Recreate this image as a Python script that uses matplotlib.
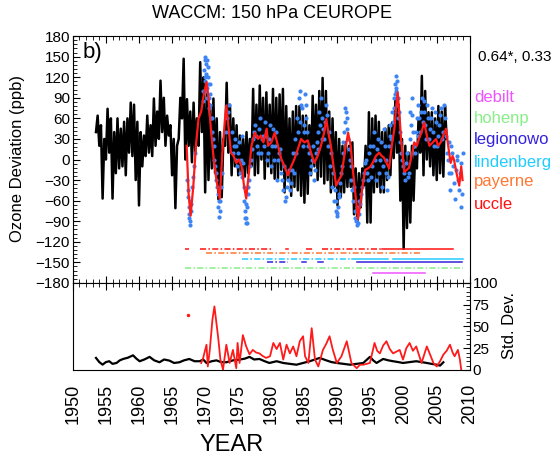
import matplotlib
matplotlib.use('Agg')
import matplotlib.pyplot as plt
from matplotlib.ticker import MultipleLocator, AutoMinorLocator
import numpy as np

plt.rcParams['font.family'] = ['Liberation Sans', 'DejaVu Sans']

# ---- model monthly anomaly (black), quarterly readings from 1953.5 ----
model_start = 1953.5
model_step = 0.25
model_vals = [40, 64,
              20, 50, -57, 30,   0, 74, 10, 60,   -57, 40, -20, 60,   -13, 45, -10, 55,
              -23, 60, 10, 83,   5, 80, -30, 55,   -67, 40, -10, 35,   5, 64, 10, 50,
              5, 89, 20, 70,     30, 115, 40, 90,  20, 64, 35, 50,     -23, 30, -71, 20,
              30, 90, 60, 147,   0, 88, 20, 70,    -4, 83, 10, 60,     20, 142, 40, 120,
              -48, 100, -30, 80, -13, 89, -20, 60, -58, 40, -55, 30,   20, 112, 10, 80,
              -23, 60, -10, 50,  -23, 35, -20, 30, -25, 40, -20, 30,   -10, 103, -23, 80,
              -20, 108, 0, 90,   -28, 98, -10, 80, -20, 103, -28, 90,  -28, 95, -15, 103,
              -48, 78, -30, 60,  -53, 70, -40, 78, -45, 78, -53, 64,   -63, 64, -50, 50,
              -23, 93, -10, 80,  -30, 100, -25, 119, -35, 100, -30, 70, -48, 60, -40, 40,
              -67, 30, -55, 20,  -48, 25, -40, 20, -40, 25, -80, -13,  -92, -20, -70, -13,
              -38, 20, -92, 69,  -92, 60, -48, 64, -40, 55, -48, 40,   -48, 45, -30, 50,
              -23, 54, 2, 89,    10, 80, -60, 30,  -130, 20, -100, 10, -92, 20, -60, 15,
              -13, 60, 10, 122,  -23, 100, 0, 69,  -10, 69, -23, 60,   -30, 78, -20, 70,
              -25, 78, 30]

# ---- smoothed sonde composite (red) ----
obs_years = [1967.2, 1967.5, 1967.8, 1968.2, 1968.6, 1969.0, 1969.4, 1969.8, 1970.2, 1970.5,
             1970.9, 1971.3, 1971.7, 1972.2, 1972.6, 1973.0, 1973.2, 1973.5, 1973.9, 1974.3,
             1974.7, 1975.1, 1975.5, 1975.9, 1976.2, 1976.6, 1977.0, 1977.5, 1978.0, 1978.4,
             1978.8, 1979.3, 1979.5, 1980.0, 1980.5, 1981.0, 1981.5, 1982.0, 1982.5, 1983.0,
             1983.5, 1984.0, 1984.5, 1985.0, 1985.5, 1986.0, 1986.5, 1987.0, 1987.5, 1988.0,
             1988.3, 1988.6, 1989.0, 1989.4, 1989.8, 1990.2, 1990.6, 1991.1, 1991.6, 1992.0,
             1992.3, 1992.7, 1993.1, 1993.5, 1993.8, 1994.2, 1994.6, 1995.0, 1995.3, 1995.8,
             1996.3, 1996.7, 1997.0, 1997.4, 1997.8, 1998.2, 1998.6, 1998.9, 1999.1, 1999.4,
             1999.6, 2000.1, 2000.5, 2000.8, 2001.2, 2001.6, 2002.0, 2002.3, 2002.7, 2003.1,
             2003.5, 2003.9, 2004.4, 2004.9, 2005.2, 2005.6, 2006.0, 2006.4, 2006.8, 2007.1,
             2007.4, 2007.6, 2008.0, 2008.4, 2008.7, 2008.9]
obs_vals = [20, -50, -82, -40, 20, 60, 70, 95, 113, 90,
            40, 0, -30, -57, 10, 60, 79, 50, 10, 5,
            -5, 0, -10, -40, -57, -20, 20, 39, 30, 35,
            25, 45, 20, 25, 39, 20, 1, -10, -23, -10,
            1, 15, 30, 25, 28, 10, -5, 5, 20, 40,
            59, 40, 20, -10, -38, -30, -23, 10, 39, 20,
            -13, -50, -87, -60, -38, -15, -13, -10, -5, 5,
            10, 5, 3, -5, -13, 20, 45, 80, 98, 60,
            30, -18, -15, -12, 5, 25, 20, 30, 40, 54,
            35, 20, 25, 30, 20, 25, 35, 45, 15, -5,
            5, 0, -20, -38, -10, -30]

# ---- individual sonde values (blue) ----
sonde_years = [1967.3, 1967.4, 1967.5, 1967.6, 1967.7, 1967.8, 1967.9, 1968.0, 1968.3, 1968.5,
               1969.6, 1969.8, 1969.9, 1970.0, 1970.1, 1970.2, 1970.3, 1970.4, 1970.5, 1970.6,
               1970.7, 1970.8, 1971.0, 1971.1, 1971.3, 1971.5, 1971.7, 1971.9, 1972.0, 1972.1,
               1972.3, 1972.4, 1972.6, 1973.3, 1973.6, 1974.0, 1974.3, 1974.5, 1974.7, 1975.0,
               1975.2, 1975.5, 1975.7, 1975.9, 1976.0, 1976.1, 1976.2, 1976.3, 1976.4, 1976.7,
               1977.0, 1977.3, 1977.6, 1977.9, 1978.2, 1978.5, 1978.8, 1979.1, 1979.4, 1979.7,
               1980.0, 1980.3, 1980.6, 1980.9, 1981.2, 1981.5, 1981.8, 1982.1, 1982.4, 1982.7,
               1983.0, 1983.3, 1983.6, 1983.9, 1984.2, 1984.4, 1984.6, 1984.9, 1985.1, 1985.3,
               1985.6, 1985.9, 1986.2, 1986.4, 1986.7, 1987.0, 1987.2, 1987.5, 1987.7, 1988.0,
               1988.3, 1988.6, 1988.9, 1989.2, 1989.5, 1989.7, 1989.9, 1990.1, 1990.3, 1990.5,
               1990.8, 1991.0, 1991.2, 1991.4, 1991.6, 1991.9, 1992.1, 1992.4, 1992.6, 1992.8,
               1993.0, 1993.2, 1993.4, 1993.7, 1994.0, 1994.3, 1994.6, 1994.9, 1995.2, 1995.5,
               1995.8, 1996.1, 1996.4, 1996.7, 1997.0, 1997.3, 1997.5, 1997.8, 1998.0, 1998.3,
               1998.5, 1998.7, 1998.8, 1998.9, 1999.0, 1999.2, 1999.4, 1999.6, 1999.9, 2000.2,
               2000.5, 2000.8, 2001.0, 2001.2, 2001.4, 2001.7, 2002.0, 2002.2, 2002.5, 2002.8,
               2003.0, 2003.3, 2003.6, 2003.9, 2004.2, 2004.5, 2004.8, 2005.1, 2005.4, 2005.7,
               2006.0, 2006.3, 2006.6, 2006.8, 2007.0, 2007.2, 2007.5, 2007.8, 2008.0, 2008.2,
               2008.5, 2008.7, 2008.9]
sonde_vals = [-30, -55, -70, -85, -90, -65, -75, -40, -10, 10,
              100, 130, 115, 150, 140, 125, 105, 135, 120, 90,
              80, 110, 60, 40, 20, -10, -30, -50, -70, -84,
              -60, -40, -20, 60, 80, 40, 20, 30, 0, 10,
              -20, 35, -5, -60, -75, -92, -85, -70, -50, -30,
              0, 30, 50, 20, 45, 10, 35, 55, 0, 30,
              -10, 45, 20, -30, 10, -20, -45, -60, -40, -15,
              -35, 10, 30, 60, 90, 100, 75, 40, 95, 60,
              20, -20, 0, -30, 10, 40, 70, 90, 60, 30,
              80, 20, -10, -40, -60, -75, -82, -70, -50, -20,
              10, 40, 75, 60, 30, 0, -30, -60, -75, -90,
              -96, -80, -65, -40, -20, 0, -30, 20, -10, 40,
              -30, 30, 0, -40, 45, -20, -45, 20, 50, 70,
              90, 110, 122, 100, 80, 60, 40, 10, -10, -30,
              10, -20, 70, 90, 40, 10, 60, 80, 40, 90,
              70, 50, 80, 30, 60, 40, 70, 20, 50, 75,
              40, 60, 10, -20, -45, 20, -10, -57, 0, -30,
              -20, -70, 10]

sonde_years_b = [1967.35, 1967.55, 1967.65, 1967.75, 1968.1,
                 1969.7, 1969.95, 1970.05, 1970.15, 1970.25, 1970.35, 1970.45, 1970.55, 1970.75, 1970.9,
                 1971.2, 1971.4, 1971.6, 1971.8, 1972.05, 1972.2,
                 1973.1, 1973.45, 1974.15, 1974.6, 1974.85, 1975.1, 1975.35, 1975.6, 1975.8, 1976.05,
                 1976.15, 1976.25, 1976.5, 1976.85, 1977.15, 1977.45, 1977.75, 1978.05, 1978.35, 1978.65,
                 1978.95, 1979.25, 1979.55, 1979.85,
                 1980.15, 1980.45, 1980.75, 1981.05, 1981.35, 1981.65, 1981.95, 1982.25, 1982.55, 1982.85,
                 1983.15, 1983.45, 1983.75, 1984.05, 1984.3, 1984.5, 1984.75, 1985.0, 1985.2, 1985.45,
                 1985.75, 1986.05, 1986.3, 1986.55, 1986.85, 1987.1, 1987.35, 1987.6, 1987.85, 1988.15,
                 1988.45, 1988.75, 1989.05, 1989.35, 1989.6, 1989.8, 1990.0, 1990.2, 1990.4, 1990.65,
                 1990.9, 1991.1, 1991.3, 1991.5, 1991.75, 1992.0, 1992.25, 1992.5, 1992.7, 1992.9,
                 1993.1, 1993.3, 1993.55, 1993.85, 1994.15, 1994.45, 1994.75, 1995.05, 1995.35, 1995.65,
                 1995.95, 1996.25, 1996.55, 1996.85, 1997.15, 1997.4, 1997.65, 1997.9, 1998.15, 1998.4,
                 1998.6, 1998.75, 1998.85, 1998.95, 1999.1, 1999.3, 1999.5, 1999.75, 2000.05, 2000.35,
                 2000.65, 2000.9, 2001.1, 2001.3, 2001.55, 2001.85, 2002.1, 2002.35, 2002.65, 2002.9,
                 2003.15, 2003.45, 2003.75, 2004.05, 2004.35, 2004.65, 2004.95, 2005.25, 2005.55, 2005.85,
                 2006.15, 2006.45, 2006.7, 2006.9, 2007.1, 2007.35, 2007.65, 2007.9, 2008.1, 2008.35,
                 2008.6, 2008.8]
sonde_vals_b = [-45, -80, -60, -95, -25,
                85, 145, 120, 100, 145, 90, 110, 75, 95, 60,
                30, 0, -20, -40, -60, -75,
                40, 70, 10, 20, -10, 25, 0, -25, -40, -85,
                -65, -92, -40, -10, 15, 40, 35, 10, 60, 30,
                20, 35, 10, 50,
                20, 0, 40, 0, 15, -30, -10, -55, -30, -45,
                -15, -20, 10, 40, 55, 80, 20, 50, 80, 40,
                10, -10, 20, -15, 25, 15, 50, 30, 45, 55,
                65, 40, 10, -20, -45, -60, -78, -55, -35, -10,
                25, 55, 70, 45, 15, -10, -45, -40, -85, -70,
                -92, -60, -50, -30, -5, -20, 10, -25, 20, 0,
                15, -20, 25, -10, 20, 0, -25, 35, 30, 55,
                75, 95, 105, 115, 90, 70, 25, 0, -20, -5,
                -25, 30, 50, 65, 20, 40, 35, 60, 70, 55,
                85, 30, 60, 45, 75, 20, 55, 35, 65, 30,
                80, 35, 0, 25, -20, 10, -35, -15, 5, -45,
                -5, -50]

# ---- station coverage (start, end, dense sampling?) ----
stations = ['debilt', 'hohenp', 'legionowo', 'lindenberg', 'payerne', 'uccle']
station_level = [-165, -159, -150, -145, -136, -130]
coverage = {
    'uccle': [(1967.0, 1967.5, False), (1969.2, 1980.2, False), (1982.2, 1982.5, True),
              (1985.2, 1986.3, False), (1987.6, 1996.8, False), (1996.8, 2007.4, True)],
    'payerne': [(1970.2, 2002.4, False)],
    'lindenberg': [(1975.5, 1992.2, False), (1992.2, 1997.6, True), (1998.4, 2009.0, True)],
    'legionowo': [(1979.3, 1982.5, False), (1984.6, 1985.2, True), (1987.0, 1987.8, True),
                  (1993.0, 2008.8, True)],
    'hohenp': [(1967.0, 2009.0, False)],
    'debilt': [(1995.4, 2003.2, True)],
}
station_colors = ['#ee55ff', '#88ee88', '#3322dd', '#22ccff', '#ff7733', '#ff1111']

# ---- standard deviations (lower panel) ----
sd_model_years = [1953.5, 1954.0, 1954.5, 1955.0, 1955.5, 1956.0, 1956.6, 1957.1, 1957.6, 1958.3,
                  1959.1, 1959.6, 1960.1, 1960.8, 1961.6, 1962.3, 1963.1, 1963.8, 1964.6, 1965.3,
                  1966.1, 1966.8, 1967.6, 1968.4, 1969.2, 1969.7, 1970.2, 1971.0, 1971.7, 1972.4,
                  1973.2, 1974.2, 1975.2, 1976.0, 1976.7, 1977.4, 1978.2, 1979.0, 1979.7, 1980.8,
                  1981.8, 1982.8, 1983.8, 1984.8, 1985.8, 1986.6, 1987.3, 1988.3, 1989.1, 1989.9,
                  1990.9, 1991.9, 1992.9, 1993.9, 1994.9, 1995.4, 1995.9, 1996.9, 1997.7, 1998.4,
                  1999.2, 1999.9, 2000.9, 2001.9, 2002.7, 2003.5, 2004.2, 2005.0, 2005.5, 2006.0]
sd_model_vals = [13.8, 9, 6.1, 9, 10, 7, 8, 11, 12.6, 14,
                 16.8, 13, 10, 12, 15, 11, 8.8, 12, 10.7, 8,
                 8.8, 11, 12.6, 10, 10, 12, 8, 10, 11, 9,
                 8.8, 11, 11.9, 13, 15, 12, 12.6, 10, 8, 10,
                 8, 7, 6, 8, 10, 12, 13.8, 11, 9, 8,
                 7, 6, 7, 8, 15, 11, 8, 12.6, 11, 10,
                 9, 8, 9, 10, 9, 8, 7, 6, 5, 8.8]

sd_obs_years = [1969.4, 1969.7, 1970.2, 1970.4, 1970.7, 1971.1, 1971.4, 1971.7, 1972.0, 1972.3,
                1972.7, 1973.2, 1973.7, 1974.2, 1974.7, 1974.9, 1975.2, 1975.7, 1976.2, 1976.7,
                1977.2, 1977.7, 1978.2, 1978.7, 1979.2, 1979.8, 1980.3, 1980.8, 1981.3, 1981.8,
                1982.3, 1982.8, 1983.3, 1983.8, 1984.3, 1984.8, 1985.1, 1985.6, 1986.1, 1986.6,
                1987.1, 1987.8, 1988.3, 1988.8, 1989.3, 1989.9, 1990.6, 1991.4, 1992.1, 1992.9,
                1993.4, 1993.9, 1994.9, 1995.6, 1996.0, 1996.4, 1996.9, 1997.4, 1997.9, 1998.4,
                1999.4, 1999.9, 2000.4, 2000.9, 2001.4, 2001.9, 2002.7, 2003.5, 2004.0, 2004.5,
                2005.0, 2005.5, 2006.0, 2006.5, 2007.0, 2007.4, 2007.7, 2008.2, 2008.5, 2008.7]
sd_obs_vals = [8, 13.8, 29, 4, 23, 57.9, 73, 54, 35, 11.9,
               0.4, 29, 8, 23, 2, 31, 8, 40, 27, 18,
               23, 20, 19, 16, 13.8, 15.7, 31, 24, 31, 11.9,
               29, 19, 27, 15.7, 33, 38.7, 15.7, 8, 48, 11.9,
               4, 23, 30, 38.7, 23, 8, 15.7, 33, 8, 2,
               6, 6, 8, 31, 22, 19, 28, 33, 24, 19,
               23, 11.9, 25, 31, 22, 27, 8, 27, 17.6, 8,
               4, 10, 17.6, 22, 29, 20, 15.7, 23, 12, 0.4]
sd_obs_outlier = (1967.4, 63)

years_major = list(range(1950, 2011, 5))

model_years = model_start + model_step * np.arange(len(model_vals))

fig = plt.figure(figsize=(5.56, 4.63), dpi=100)
ax1 = fig.add_axes([0.131, 0.389, 0.714, 0.533])
ax2 = fig.add_axes([0.131, 0.201, 0.714, 0.188])

# upper panel
ax1.plot(model_years, model_vals, color='black', lw=1.8, zorder=2)
ax1.plot(sonde_years + sonde_years_b, sonde_vals + sonde_vals_b, ls='none', marker='o',
         ms=3.0, mec='none', color='#3d85f5', zorder=3)
ax1.plot(obs_years, obs_vals, color='#ff1a1a', lw=1.6, zorder=4)

for name, level, col in zip(stations, station_level, station_colors):
    for start, end, dense in coverage[name]:
        ax1.plot([start, end], [level, level], color=col, lw=1.1,
                 ls='-' if dense else (0, (4, 1.5, 1, 1.5)))

ax1.set_xlim(1950, 2010)
ax1.set_ylim(-180, 180)
ax1.set_yticks(range(-180, 181, 30))
ax1.yaxis.set_minor_locator(AutoMinorLocator(5))
ax1.set_xticks(years_major)
ax1.xaxis.set_minor_locator(MultipleLocator(1))
ax1.tick_params(which='both', direction='in', top=True, bottom=True, right=False,
                labelbottom=False, labelsize=11, pad=2)
ax1.tick_params(which='major', length=5)
ax1.tick_params(which='minor', length=3)
ax1.text(0.025, 0.975, 'b)', transform=ax1.transAxes, ha='left', va='top', fontsize=16)

# lower panel
ax2.plot(sd_model_years, sd_model_vals, color='black', lw=1.6)
ax2.plot(sd_obs_years, sd_obs_vals, color='#ff1a1a', lw=1.3)
ax2.plot(*sd_obs_outlier, ls='none', marker='o', ms=2.5, mec='none', color='#ff1a1a')
ax2.set_xlim(1950, 2010)
ax2.set_ylim(0, 100)
ax2.set_xticks(years_major)
ax2.set_xticklabels([str(y) for y in years_major], rotation=90, fontsize=13)
ax2.xaxis.set_minor_locator(MultipleLocator(1))
ax2.yaxis.tick_right()
ax2.set_yticks(range(0, 101, 25))
ax2.yaxis.set_minor_locator(AutoMinorLocator(5))
ax2.tick_params(axis='x', which='both', direction='in', top=True, bottom=False, pad=10)
ax2.tick_params(axis='x', which='major', length=5)
ax2.tick_params(axis='x', which='minor', length=3)
ax2.tick_params(axis='y', which='both', direction='in', labelsize=11, pad=2)
ax2.tick_params(axis='y', which='major', length=5)
ax2.tick_params(axis='y', which='minor', length=3)

# texts
fig.text(0.489, 0.970, 'WACCM: 150 hPa CEUROPE', ha='center', va='center', fontsize=13)
fig.text(0.032, 0.658, 'Ozone Deviation (ppb)', rotation=90, ha='center', va='center', fontsize=12)
fig.text(0.917, 0.298, 'Std. Dev.', rotation=90, ha='center', va='center', fontsize=12)
fig.text(0.417, 0.039, 'YEAR', ha='center', va='center', fontsize=17)
fig.text(0.86, 0.877, '0.64*, 0.33', ha='left', va='center', fontsize=11)
legend_y = [0.790, 0.745, 0.698, 0.650, 0.607, 0.558]
for name, col, yy in zip(stations, station_colors, legend_y):
    fig.text(0.853, yy, name, color=col, ha='left', va='center', fontsize=12)

fig.savefig('out.png', dpi=100)
